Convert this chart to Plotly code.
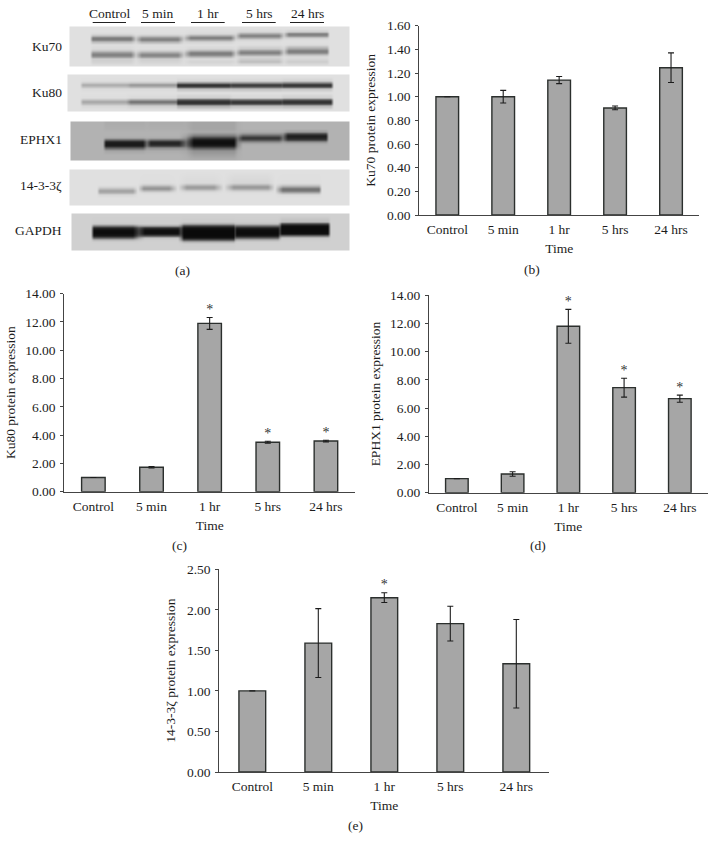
import plotly.graph_objects as go

categories = ["Control", "5 min", "1 hr", "5 hrs", "24 hrs"]

ku70_vals = [1.00, 1.00, 1.14, 0.905, 1.245]
ku70_err = [0, 0.053, 0.03, 0.016, 0.125]
ku70_stars = ["", "", "", "", ""]

ku80_vals = [1.00, 1.73, 11.9, 3.50, 3.58]
ku80_err = [0, 0.05, 0.42, 0.07, 0.06]
ku80_stars = ["", "", "*", "*", "*"]

ephx1_vals = [1.00, 1.33, 11.8, 7.45, 6.67]
ephx1_err = [0, 0.16, 1.2, 0.67, 0.25]
ephx1_stars = ["", "", "*", "*", "*"]

z1433_vals = [1.00, 1.59, 2.15, 1.83, 1.335]
z1433_err = [0, 0.425, 0.06, 0.215, 0.545]
z1433_stars = ["", "", "*", "", ""]

# blot strips: gray level per row (top to bottom) and lane
ku70_rows = [27, 28, 31, 33, 35, 37, 39, 41, 44, 48, 50, 52, 54, 56, 58, 61, 63, 65, 66]
ku70_lanes = [(92, 130), (141, 177), (190, 230), (240, 278), (288, 326)]
ku70_bg = 224
ku70_z = [
    [224, 224, 224, 224, 224],
    [224, 224, 224, 224, 224],
    [224, 224, 222, 214, 205],
    [218, 222, 215, 165, 125],
    [190, 198, 170, 125, 140],
    [125, 145, 120, 165, 205],
    [125, 125, 160, 212, 222],
    [185, 175, 210, 222, 224],
    [222, 222, 224, 222, 220],
    [218, 222, 214, 200, 165],
    [195, 205, 175, 150, 125],
    [150, 165, 125, 125, 135],
    [125, 130, 130, 165, 190],
    [150, 150, 180, 210, 218],
    [205, 205, 218, 205, 215],
    [210, 212, 212, 190, 205],
    [216, 218, 218, 212, 214],
    [224, 224, 224, 224, 224],
    [224, 224, 224, 224, 224],
]

ku80_rows = [75, 76, 80, 82, 84, 86, 88, 92, 97, 99, 101, 103, 105, 109, 110, 111]
ku80_lanes = [(82, 125), (130, 175), (177, 228), (232, 280), (283, 330)]
ku80_bg = 224
ku80_z = [
    [224, 224, 224, 224, 224],
    [224, 224, 224, 224, 224],
    [222, 222, 215, 215, 210],
    [205, 200, 150, 150, 135],
    [170, 150, 45, 55, 50],
    [190, 175, 70, 85, 75],
    [218, 218, 190, 190, 195],
    [224, 224, 224, 224, 224],
    [222, 218, 205, 215, 205],
    [195, 165, 90, 110, 90],
    [165, 110, 45, 50, 45],
    [185, 150, 60, 70, 70],
    [215, 205, 170, 185, 180],
    [224, 224, 222, 224, 224],
    [224, 224, 224, 224, 224],
    [224, 224, 224, 224, 224],
]

ephx1_rows = [122, 123, 128, 131, 133, 135, 137, 139, 141, 143, 145, 147, 150, 154, 158]
ephx1_lanes = [(105, 142), (150, 178), (193, 233), (242, 278), (287, 325)]
ephx1_bg = 178
ephx1_z = [
    [172, 172, 165, 178, 178],
    [172, 172, 165, 178, 178],
    [175, 175, 165, 178, 178],
    [178, 178, 170, 172, 155],
    [178, 178, 150, 145, 70],
    [178, 178, 120, 95, 30],
    [170, 172, 65, 50, 35],
    [105, 115, 25, 75, 60],
    [35, 45, 15, 135, 140],
    [25, 35, 15, 170, 172],
    [30, 60, 30, 178, 178],
    [90, 140, 80, 178, 178],
    [165, 172, 145, 178, 178],
    [178, 178, 160, 178, 178],
    [178, 178, 172, 178, 178],
]

z1433_rows = [170, 171, 182, 184, 186, 188, 190, 192, 194, 197, 204, 205]
z1433_lanes = [(99, 132), (143, 168), (186, 213), (233, 267), (282, 318)]
z1433_bg = 224
z1433_z = [
    [224, 224, 224, 224, 224],
    [224, 224, 224, 224, 224],
    [224, 222, 218, 214, 222],
    [224, 205, 190, 185, 205],
    [215, 165, 155, 150, 165],
    [190, 145, 165, 165, 115],
    [160, 185, 205, 205, 120],
    [175, 218, 222, 222, 175],
    [215, 224, 224, 224, 218],
    [224, 224, 224, 224, 224],
    [224, 224, 224, 224, 224],
    [224, 224, 224, 224, 224],
]

gapdh_rows = [214, 215, 221, 223, 225, 227, 229, 231, 233, 235, 237, 239, 241, 243, 249, 250]
gapdh_lanes = [(93, 132), (144, 177), (183, 233), (236, 277), (281, 327)]
gapdh_bg = 208
gapdh_z = [
    [208, 208, 208, 208, 208],
    [208, 208, 208, 208, 208],
    [206, 206, 204, 205, 190],
    [200, 205, 170, 190, 70],
    [130, 165, 70, 110, 18],
    [40, 50, 20, 35, 12],
    [16, 18, 12, 15, 12],
    [12, 14, 10, 12, 12],
    [14, 20, 10, 12, 18],
    [25, 80, 10, 25, 110],
    [90, 190, 20, 90, 195],
    [180, 205, 80, 175, 206],
    [205, 208, 175, 205, 208],
    [208, 208, 205, 208, 208],
    [208, 208, 208, 208, 208],
    [208, 208, 208, 208, 208],
]

blot_names = ["Ku70", "Ku80", "EPHX1", "14-3-3ζ", "GAPDH"]
SERIF = "Liberation Serif"
INK = "#1c1c1c"
FS = 13.5
W, H = 716, 852

fig = go.Figure()


def add_blot(rows, lanes, z, bg, left, right, gap_mix):
    xs = [left, left + 1]
    for i, (a, b) in enumerate(lanes):
        if i == 0:
            xs.append(a - 3)
        else:
            xs.append((lanes[i - 1][1] + a) / 2)
        xs += [a, b]
    xs += [lanes[-1][1] + 3, right - 1, right]
    grid = []
    for row in z:
        line = [bg, bg]
        for i, v in enumerate(row):
            if i == 0:
                line.append(bg)
            else:
                line.append(round(gap_mix * (row[i - 1] + v) / 2 + (1 - gap_mix) * bg))
            line += [v, v]
        line += [bg, bg, bg]
        grid.append(line)
    fig.add_trace(go.Heatmap(
        x=xs, y=rows, z=grid, zmin=0, zmax=255, zsmooth="best", showscale=False,
        colorscale=[[0, "#000000"], [1, "#ffffff"]], hoverinfo="skip",
        xaxis="x5", yaxis="y5",
    ))


add_blot(ku70_rows, ku70_lanes, ku70_z, ku70_bg, 70, 349, 0.25)
add_blot(ku80_rows, ku80_lanes, ku80_z, ku80_bg, 68, 349, 0.9)
add_blot(ephx1_rows, ephx1_lanes, ephx1_z, ephx1_bg, 71, 349, 0.5)
add_blot(z1433_rows, z1433_lanes, z1433_z, z1433_bg, 70, 349, 0.0)
add_blot(gapdh_rows, gapdh_lanes, gapdh_z, gapdh_bg, 72, 349, 0.75)


def add_panel(idx, vals, err, stars):
    suffix = "" if idx == 1 else str(idx)
    fig.add_trace(go.Bar(
        x=categories, y=vals, width=0.405,
        marker=dict(color="#a6a6a6", line=dict(color="#2b2f2d", width=1.4)),
        error_y=dict(type="data", array=[e or None for e in err], color=INK, thickness=1.1, width=3),
        xaxis="x" + suffix, yaxis="y" + suffix,
    ))
    tops = [v + e for v, e in zip(vals, err)]
    fig.add_trace(go.Scatter(
        x=categories, y=tops, mode="text", text=stars, textposition="top center",
        textfont=dict(family=SERIF, size=14, color="#333333"), cliponaxis=False,
        xaxis="x" + suffix, yaxis="y" + suffix,
    ))


add_panel(1, ku70_vals, ku70_err, ku70_stars)
add_panel(2, ku80_vals, ku80_err, ku80_stars)
add_panel(3, ephx1_vals, ephx1_err, ephx1_stars)
add_panel(4, z1433_vals, z1433_err, z1433_stars)


def x_axis(x0, x1, anchor):
    return dict(
        domain=[x0 / W, x1 / W], anchor=anchor, type="category", categoryorder="array",
        categoryarray=categories, range=[-0.5, 4.5], showgrid=False, zeroline=False,
        showline=True, linecolor="#444444", linewidth=1, ticks="", automargin=False,
        tickfont=dict(family=SERIF, size=FS, color=INK), ticklabelstandoff=2,
        title=dict(text="Time", font=dict(family=SERIF, size=FS, color=INK), standoff=7),
    )


def y_axis(y_top, y_bot, anchor, top, dtick, title, standoff):
    return dict(
        domain=[1 - y_bot / H, 1 - y_top / H], anchor=anchor, range=[0, top], dtick=dtick,
        tickformat=".2f", showgrid=False, zeroline=False, showline=True, automargin=False,
        linecolor="#444444", linewidth=1, ticks="outside", ticklen=3, tickcolor="#444444",
        tickfont=dict(family=SERIF, size=FS, color=INK), ticklabelstandoff=2,
        title=dict(text=title, font=dict(family=SERIF, size=FS, color=INK), standoff=standoff),
    )


lane_titles = [("Control", 110), ("5 min", 157), ("1 hr", 208), ("5 hrs", 259.6), ("24 hrs", 307)]
lane_rules = [(92.7, 126), (141, 175), (191, 224.7), (242, 275.7), (290, 324)]
blot_label_y = [46, 92, 139, 185, 230]
captions = [("(a)", 182, 270), ("(b)", 532, 269), ("(c)", 179.5, 545), ("(d)", 538, 545), ("(e)", 355.7, 825)]

notes = []
for name, y in zip(blot_names, blot_label_y):
    notes.append(dict(x=63.5, y=y, xref="x5", yref="y5", text=name, xanchor="right",
                      yanchor="middle", showarrow=False,
                      font=dict(family=SERIF, size=FS, color=INK)))
for text, x in lane_titles:
    notes.append(dict(x=x, y=13.5, xref="x5", yref="y5", text=text, xanchor="center",
                      yanchor="middle", showarrow=False,
                      font=dict(family=SERIF, size=FS, color=INK)))
for text, x, y in captions:
    notes.append(dict(x=x, y=y, xref="x5", yref="y5", text=text, xanchor="center",
                      yanchor="middle", showarrow=False,
                      font=dict(family=SERIF, size=FS, color=INK)))

rules = [dict(type="line", xref="x5", yref="y5", x0=a, x1=b, y0=22.5, y1=22.5,
              line=dict(color="#222222", width=1)) for a, b in lane_rules]

fig.update_layout(
    width=W, height=H, margin=dict(l=0, r=0, t=0, b=0), paper_bgcolor="white",
    plot_bgcolor="rgba(0,0,0,0)", showlegend=False, annotations=notes, shapes=rules,
    xaxis=x_axis(419.3, 699, "y"),
    yaxis=y_axis(25.7, 215, "x", 1.6, 0.2, "Ku70 protein expression", 8),
    xaxis2=x_axis(64.3, 355, "y2"),
    yaxis2=y_axis(293.7, 491.7, "x2", 14, 2, "Ku80 protein expression", 6),
    xaxis3=x_axis(429, 707.7, "y3"),
    yaxis3=y_axis(295.3, 492.7, "x3", 14, 2, "EPHX1 protein expression", 6),
    xaxis4=x_axis(219.3, 549.3, "y4"),
    yaxis4=y_axis(569.3, 772, "x4", 2.5, 0.5, "14-3-3ζ protein expression", 8),
    xaxis5=dict(domain=[0, 1], range=[0, W], visible=False, anchor="y5", automargin=False),
    yaxis5=dict(domain=[0, 1], range=[H, 0], visible=False, anchor="x5", automargin=False),
)

fig.write_html("out.html", config={"displayModeBar": False},
               post_script="document.body.style.margin='0';")
